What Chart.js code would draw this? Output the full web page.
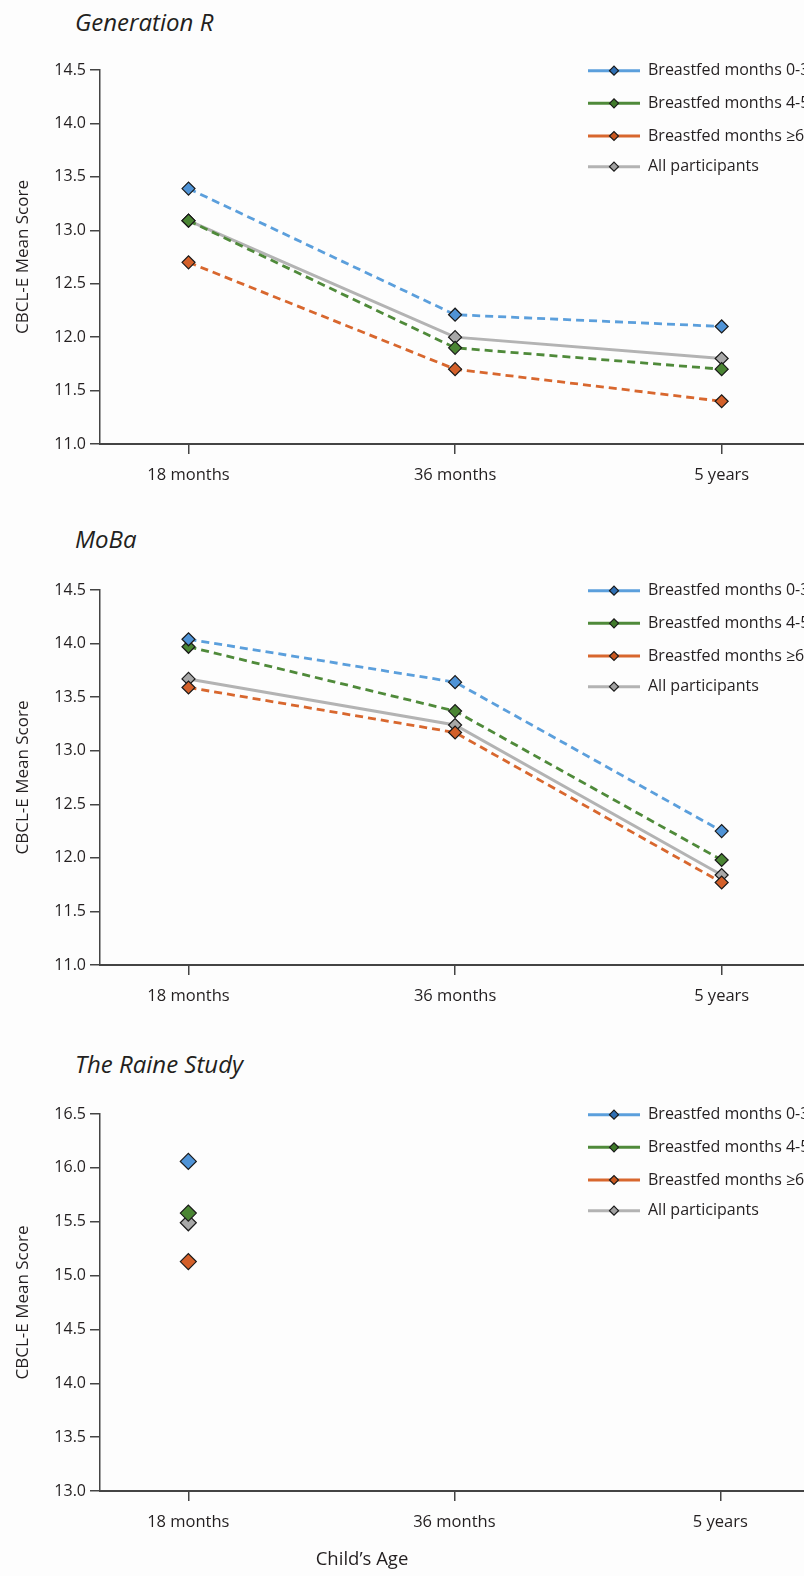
<!DOCTYPE html>
<html>
<head>
<meta charset="utf-8">
<script src="https://cdn.jsdelivr.net/npm/chart.js@4.4.0/dist/chart.umd.min.js"></script>
<style>
body { margin:0; width:804px; height:1576px; background:#fdfdfd; position:relative; overflow:hidden; font-family:"Open Sans", sans-serif; color:#231f20; }
canvas { position:absolute; left:0; }
.ttl { position:absolute; left:75px; font-style:italic; font-size:24px; line-height:28px; white-space:nowrap; }
#xtitle { position:absolute; left:0; width:724px; text-align:center; top:1546px; font-size:18.5px; line-height:24px; }
</style>
</head>
<body>
<div class="ttl" style="top:8px">Generation R</div>
<canvas id="c1" width="816" height="450" style="top:50px"></canvas>
<div class="ttl" style="top:525px">MoBa</div>
<canvas id="c2" width="816" height="451" style="top:570px"></canvas>
<div class="ttl" style="top:1050px">The Raine Study</div>
<canvas id="c3" width="816" height="453" style="top:1094px"></canvas>
<div id="xtitle">Child’s Age</div>
<script>
// data
var ageLabels = ['18 months', '36 months', '5 years'];
var seriesNames = ['Breastfed months 0-3', 'Breastfed months 4-5', 'Breastfed months \u22656', 'All participants'];

var genR_0to3  = [13.39, 12.21, 12.10];
var genR_4to5  = [13.09, 11.90, 11.70];
var genR_6plus = [12.70, 11.70, 11.40];
var genR_all   = [13.09, 12.00, 11.80];

var moba_0to3  = [14.04, 13.64, 12.25];
var moba_4to5  = [13.97, 13.37, 11.98];
var moba_6plus = [13.59, 13.17, 11.77];
var moba_all   = [13.67, 13.24, 11.84];

var raine_0to3  = [16.06, null, null];
var raine_4to5  = [15.58, null, null];
var raine_6plus = [15.13, null, null];
var raine_all   = [15.49, null, null];

var genR_yRange  = [11.0, 14.5];
var moba_yRange  = [11.0, 14.5];
var raine_yRange = [13.0, 16.5];

var lineColors  = ['#5b9fdc', '#4f8a3a', '#d8672e', '#b3b3b3'];
var pointColors = ['#4f93d6', '#4a8533', '#d3602a', '#a8a8a8'];
var legendPointColors = ['#2f6fb3', '#3f7a2a', '#c9581f', '#a0a0a0'];
var dashed = [true, true, true, false];
var textColor = '#231f20';
var axisColor = '#444';

var sideLegend = {
    id: 'sideLegend',
    afterDraw: function (chart) {
        var ctx = chart.ctx;
        var top = chart.chartArea.top;
        var rows = [0.7, 33.3, 66, 96.7];
        chart.data.datasets.forEach(function (ds, i) {
            var y = top + rows[i];
            ctx.save();
            ctx.strokeStyle = ds.borderColor;
            ctx.lineWidth = 3;
            ctx.beginPath();
            ctx.moveTo(588, y);
            ctx.lineTo(640, y);
            ctx.stroke();
            ctx.fillStyle = legendPointColors[i];
            ctx.strokeStyle = '#1a1a1a';
            ctx.lineWidth = 1.2;
            Chart.helpers.drawPoint(ctx, {pointStyle: 'rectRot', radius: 4.5, borderWidth: 1.2}, 614, y);
            ctx.fillStyle = textColor;
            ctx.font = '16px "Open Sans"';
            ctx.textBaseline = 'middle';
            ctx.fillText(ds.label, 648, y);
            ctx.restore();
        });
    }
};

function makeChart(id, series, yRange, radius) {
    var datasets = series.map(function (vals, i) {
        var pts = [];
        vals.forEach(function (v, j) { if (v !== null) pts.push({x: j, y: v}); });
        return {
            label: seriesNames[i],
            data: pts,
            borderColor: lineColors[i],
            backgroundColor: pointColors[i],
            pointBackgroundColor: pointColors[i],
            pointBorderColor: '#1a1a1a',
            pointBorderWidth: 1.2,
            pointStyle: 'rectRot',
            pointRadius: radius,
            borderWidth: dashed[i] ? 2.8 : 3,
            borderDash: dashed[i] ? [8, 5] : [],
            tension: 0,
            fill: false
        };
    });

    return new Chart(document.getElementById(id), {
        type: 'line',
        data: {datasets: datasets},
        options: {
            responsive: false,
            animation: false,
            devicePixelRatio: 1,
            layout: {padding: {top: 20, left: 0, right: 0, bottom: 0}},
            plugins: {legend: {display: false}, tooltip: {enabled: false}},
            scales: {
                x: {
                    type: 'linear',
                    min: -0.332,
                    max: 2.325,
                    afterBuildTicks: function (s) {
                        s.ticks = ageLabels.map(function (l, i) { return {value: i}; });
                    },
                    afterFit: function (s) { s.height = 56; },
                    ticks: {
                        callback: function (v) { return ageLabels[v]; },
                        color: textColor,
                        font: {family: 'Open Sans', size: 16.5},
                        padding: 11,
                        maxRotation: 0,
                        autoSkip: false
                    },
                    grid: {drawOnChartArea: false, color: axisColor, lineWidth: 1.5, tickLength: 10},
                    border: {color: axisColor, width: 2}
                },
                y: {
                    min: yRange[0],
                    max: yRange[1],
                    afterFit: function (s) { s.width = 100; },
                    ticks: {
                        stepSize: 0.5,
                        callback: function (v) { return v.toFixed(1); },
                        color: textColor,
                        font: {family: 'Open Sans', size: 16},
                        padding: 4
                    },
                    grid: {drawOnChartArea: false, color: axisColor, lineWidth: 1.5, tickLength: 10},
                    border: {color: axisColor, width: 1.5},
                    title: {
                        display: true,
                        text: 'CBCL-E Mean Score',
                        color: textColor,
                        font: {family: 'Open Sans', size: 17},
                        padding: {top: 13, bottom: 0}
                    }
                }
            }
        },
        plugins: [sideLegend]
    });
}

makeChart('c1', [genR_0to3, genR_4to5, genR_6plus, genR_all], genR_yRange, 6.5);
makeChart('c2', [moba_0to3, moba_4to5, moba_6plus, moba_all], moba_yRange, 6.5);
makeChart('c3', [raine_0to3, raine_4to5, raine_6plus, raine_all], raine_yRange, 8);
</script>
</body>
</html>
